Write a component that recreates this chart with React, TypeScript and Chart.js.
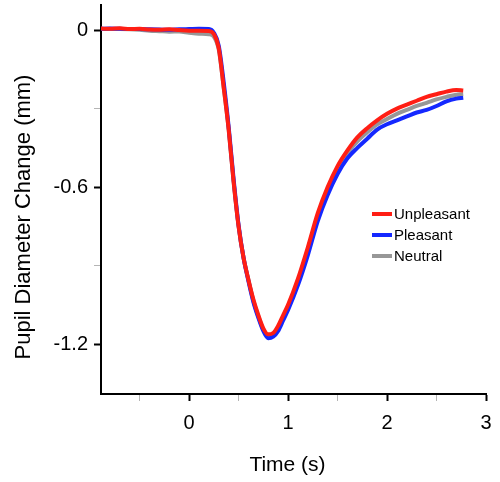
import React, { useEffect, useRef } from "react";
import { Chart, registerables } from "chart.js";

Chart.register(...registerables);

const TIMES = [
  -0.89, -0.8, -0.7, -0.6, -0.5, -0.4, -0.3, -0.2, -0.1, 0, 0.1, 0.2, 0.25, 0.3, 0.35, 0.4, 0.45, 0.5,
  0.55, 0.6, 0.65, 0.7, 0.75, 0.8, 0.85, 0.9, 0.95, 1.0, 1.1, 1.2, 1.3, 1.4, 1.5, 1.6, 1.7, 1.8, 1.9,
  2.0, 2.1, 2.2, 2.3, 2.4, 2.5, 2.6, 2.7, 2.77,
];

const UNPLEASANT = [
  0.006, 0.005, 0.007, 0.004, 0.005, 0.002, 0.001, 0.003, 0.0, -0.002, -0.002, -0.003, -0.015, -0.07,
  -0.22, -0.38, -0.58, -0.75, -0.87, -0.955, -1.03, -1.09, -1.14, -1.163, -1.158, -1.13, -1.09, -1.05,
  -0.95, -0.83, -0.7, -0.6, -0.52, -0.46, -0.41, -0.375, -0.345, -0.32, -0.3, -0.285, -0.27, -0.255,
  -0.245, -0.235, -0.229, -0.231,
];

const PLEASANT = [
  0.005, 0.006, 0.005, 0.004, 0.004, 0.003, 0.002, 0.001, 0.003, 0.004, 0.005, 0.004, -0.01, -0.06,
  -0.2, -0.37, -0.57, -0.745, -0.87, -0.96, -1.04, -1.1, -1.15, -1.178, -1.172, -1.15, -1.11, -1.07,
  -0.975, -0.86, -0.73, -0.63, -0.55, -0.49, -0.45, -0.415, -0.38, -0.36, -0.345, -0.33, -0.315,
  -0.305, -0.29, -0.272, -0.262, -0.259,
];

const NEUTRAL = [
  0.005, 0.004, 0.004, 0.003, 0.001, -0.002, -0.004, -0.006, -0.005, -0.01, -0.014, -0.016, -0.025,
  -0.075, -0.22, -0.38, -0.58, -0.75, -0.87, -0.955, -1.035, -1.095, -1.145, -1.17, -1.165, -1.14,
  -1.1, -1.06, -0.96, -0.84, -0.71, -0.61, -0.53, -0.47, -0.425, -0.39, -0.36, -0.34, -0.32, -0.305,
  -0.29, -0.278, -0.265, -0.255, -0.247, -0.245,
];

const SERIES_LABELS = ["Unpleasant", "Pleasant", "Neutral"];
const SERIES_COLORS = ["#ff1e14", "#1428ff", "#979797"];
const SERIES_VALUES = [UNPLEASANT, PLEASANT, NEUTRAL];

const X_TICKS = [-0.5, 0, 0.5, 1, 1.5, 2, 2.5, 3];
const X_LABELED = [0, 1, 2, 3];
const Y_TICKS = [0, -0.3, -0.6, -0.9, -1.2];
const Y_LABELED = [0, -0.6, -1.2];

const X_MIN = -0.89;
const X_MAX = 3;
const Y_MIN = -1.391;
const Y_MAX = 0.096;

const X_TITLE = "Time (s)";
const Y_TITLE = "Pupil Diameter Change (mm)";

const FONT = '"Liberation Sans", Arial, Helvetica, sans-serif';

const overlayPlugin = {
  id: "overlay",
  afterDraw(chart: any) {
    const ctx = chart.ctx as CanvasRenderingContext2D;
    ctx.save();
    ctx.fillStyle = "#000";
    // axis titles
    ctx.font = `21px ${FONT}`;
    ctx.textAlign = "center";
    ctx.textBaseline = "alphabetic";
    ctx.fillText(X_TITLE, 287.5, 471);
    ctx.save();
    ctx.translate(30, 217);
    ctx.rotate(-Math.PI / 2);
    ctx.font = `22px ${FONT}`;
    ctx.fillText(Y_TITLE, 0, 0);
    ctx.restore();
    // legend
    ctx.font = `15px ${FONT}`;
    ctx.textAlign = "left";
    ctx.textBaseline = "middle";
    SERIES_LABELS.forEach((label, i) => {
      const y = 214 + 21 * i;
      ctx.strokeStyle = SERIES_COLORS[i];
      ctx.lineWidth = 4;
      ctx.beginPath();
      ctx.moveTo(372, y);
      ctx.lineTo(392, y);
      ctx.stroke();
      ctx.fillStyle = "#000";
      ctx.fillText(label, 394, y + 1);
    });
    ctx.restore();
  },
};

const zeroPad = (s: any) => {
  s.paddingTop = 0;
  s.paddingBottom = 0;
  s.paddingLeft = 0;
  s.paddingRight = 0;
};

export default function App() {
  const canvasRef = useRef<HTMLCanvasElement | null>(null);

  useEffect(() => {
    if (!canvasRef.current) return;
    const datasets = SERIES_LABELS.map((label, i) => ({
      label,
      data: TIMES.map((t, j) => ({ x: t, y: SERIES_VALUES[i][j] })),
      borderColor: SERIES_COLORS[i],
      backgroundColor: SERIES_COLORS[i],
      borderWidth: 4,
      pointRadius: 0,
      fill: false,
      cubicInterpolationMode: "monotone" as const,
    }));

    const chart = new Chart(canvasRef.current, {
      type: "line",
      data: { datasets },
      options: {
        responsive: false,
        animation: false,
        devicePixelRatio: 1,
        layout: { padding: { top: 5, right: 14, left: 0, bottom: 0 } },
        plugins: {
          legend: { display: false },
          tooltip: { enabled: false },
        },
        scales: {
          x: {
            type: "linear",
            min: X_MIN,
            max: X_MAX,
            afterBuildTicks: (s: any) => {
              s.ticks = X_TICKS.map((value) => ({ value }));
            },
            afterFit: (s: any) => {
              s.height = 88;
              zeroPad(s);
            },
            ticks: {
              autoSkip: false,
              maxRotation: 0,
              padding: 10,
              color: "#000",
              font: { size: 20, family: FONT },
              callback: (v: any) => (X_LABELED.includes(Number(v)) ? String(v) : ""),
            },
            grid: {
              drawOnChartArea: false,
              drawTicks: true,
              tickLength: 7,
              tickColor: (c: any) => (X_LABELED.includes(c.tick?.value) ? "#000" : "#b5b5b5"),
              tickWidth: (c: any) => (X_LABELED.includes(c.tick?.value) ? 2 : 1),
            },
            border: { display: true, color: "#000", width: 2 },
          },
          y: {
            type: "linear",
            min: Y_MIN,
            max: Y_MAX,
            afterBuildTicks: (s: any) => {
              s.ticks = Y_TICKS.map((value) => ({ value }));
            },
            afterFit: (s: any) => {
              s.width = 101;
              zeroPad(s);
            },
            ticks: {
              autoSkip: false,
              padding: 6,
              color: "#000",
              font: { size: 20, family: FONT },
              callback: (v: any) => (Y_LABELED.includes(Number(v)) ? String(v) : ""),
            },
            grid: {
              drawOnChartArea: false,
              drawTicks: true,
              tickLength: 7,
              tickColor: (c: any) => (Y_LABELED.includes(c.tick?.value) ? "#000" : "#b5b5b5"),
              tickWidth: (c: any) => (Y_LABELED.includes(c.tick?.value) ? 2 : 1),
            },
            border: { display: true, color: "#000", width: 2 },
          },
        },
      },
      plugins: [overlayPlugin],
    });
    return () => chart.destroy();
  }, []);

  return (
    <div style={{ position: "absolute", left: 0, top: 0, width: 500, height: 482, background: "#fff" }}>
      <canvas ref={canvasRef} width={500} height={482} style={{ display: "block" }} />
    </div>
  );
}
